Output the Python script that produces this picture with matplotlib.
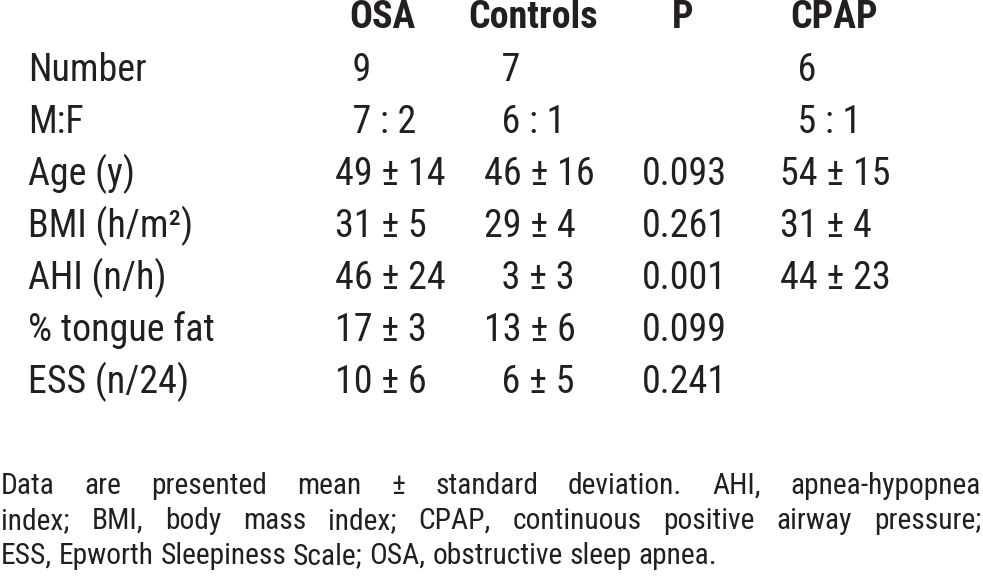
import matplotlib
matplotlib.use("Agg")
import matplotlib.pyplot as plt
from matplotlib import font_manager
from matplotlib.ft2font import FT2Font

# table content
headers = ["OSA", "Controls", "P", "CPAP"]
row_labels = ["Number", "M:F", "Age (y)", "BMI (h/m²)", "AHI (n/h)",
              "% tongue fat", "ESS (n/24)"]
osa = ["  9", "  7 : 2", "49 ± 14", "31 ± 5", "46 ± 24", "17 ± 3", "10 ± 6"]
controls = ["  7", "  6 : 1", "46 ± 16", "29 ± 4", "  3 ± 3", "13 ± 6", "  6 ± 5"]
p_values = ["", "", "0.093", "0.261", "0.001", "0.099", "0.241"]
cpap = ["  6", "  5 : 1", "54 ± 15", "31 ± 4", "44 ± 23", "", ""]

footnote = [
    "Data are presented mean ± standard deviation. AHI, apnea-hypopnea",
    "index; BMI, body mass index; CPAP, continuous positive airway pressure;",
    "ESS, Epworth Sleepiness Scale; OSA, obstructive sleep apnea.",
]

# layout (pixels)
W, H = 983, 579
label_x = 28
header_x = [349, 468, 672, 790]
col_x = [335, 484, 642, 780]
header_y = 28
row_y0, row_step = 81, 52
foot_y = [494, 529, 564]
ink = "#231f20"
body_weight = "normal"

names = {f.name for f in font_manager.fontManager.ttflist}
wanted = ["Liberation Sans Narrow", "Arial Narrow", "Roboto Condensed",
          "Pragati Narrow", "Archivo Narrow", "PT Sans Narrow", "Liberation Sans"]
family = next(n for n in wanted if n in names)
print("font:", family)


def cap_ratio(weight="normal"):
    path = font_manager.findfont(font_manager.FontProperties(family=family, weight=weight))
    f = FT2Font(path)
    try:
        cap = f.get_sfnt_table("OS/2")["sCapHeight"]
        if cap:
            return cap / f.units_per_EM
    except Exception:
        pass
    return 0.71


def px_to_pt(cap_px, weight="normal"):
    return cap_px / cap_ratio(weight) * 72 / 100


fig = plt.figure(figsize=(W / 100, H / 100), dpi=100)
ax = fig.add_axes([0, 0, 1, 1])
ax.set_xlim(0, W)
ax.set_ylim(H, 0)
ax.axis("off")

renderer = fig.canvas.get_renderer()
inv = ax.transData.inverted()


def width_of(t):
    bb = t.get_window_extent(renderer)
    (x0, _), (x1, _) = inv.transform([[bb.x0, bb.y0], [bb.x1, bb.y1]])
    return abs(x1 - x0)


fs = px_to_pt(27, body_weight)
hfs = px_to_pt(27, "bold")

for x, h in zip(header_x, headers):
    ax.text(x, header_y, h, fontsize=hfs, fontweight="bold", family=family,
            color=ink, va="baseline", ha="left")

columns = [osa, controls, p_values, cpap]
for i, lab in enumerate(row_labels):
    y = row_y0 + i * row_step
    ax.text(label_x, y, lab, fontsize=fs, fontweight=body_weight, family=family,
            color=ink, va="baseline", ha="left")
    for x, col in zip(col_x, columns):
        if col[i]:
            ax.text(x, y, col[i], fontsize=fs, fontweight=body_weight,
                    family=family, color=ink, va="baseline", ha="left")


# footnote: justified lines, last line flush left
def space_width(size):
    a = ax.text(0, 0, "a a", fontsize=size, family=family, fontweight=body_weight)
    b = ax.text(0, 0, "aa", fontsize=size, family=family, fontweight=body_weight)
    w = width_of(a) - width_of(b)
    a.remove()
    b.remove()
    return w


foot_fs = px_to_pt(21, body_weight)
for j, line in enumerate(footnote):
    words = line.split(" ")
    size = foot_fs
    last = j == len(footnote) - 1
    for _ in range(30):
        texts = [ax.text(0, foot_y[j], w, fontsize=size, fontweight=body_weight,
                         family=family, color=ink, va="baseline", ha="left")
                 for w in words]
        widths = [width_of(t) for t in texts]
        sw = space_width(size)
        gap = sw if last else (980 - sum(widths)) / (len(words) - 1)
        if gap >= 0.55 * sw and (not last or sum(widths) + gap * (len(words) - 1) < 980):
            break
        for t in texts:
            t.remove()
        size *= 0.98
    x = 1
    for t, w in zip(texts, widths):
        t.set_x(x)
        x += w + gap

fig.savefig("out.png", dpi=100, facecolor="white")
